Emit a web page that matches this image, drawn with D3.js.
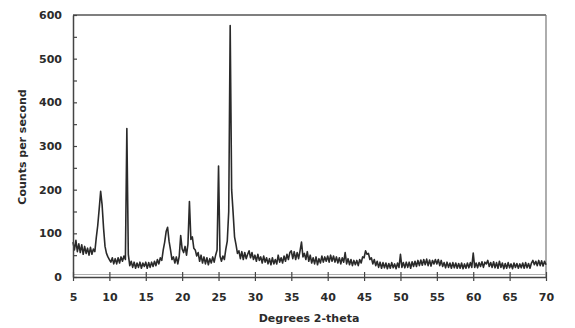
<!DOCTYPE html>
<html>
<head>
<meta charset="utf-8">
<script src="https://cdn.jsdelivr.net/npm/d3@7"></script>
<style>
  body { margin: 0; background: #fff; }
  svg { display: block; }
  text { font-family: "DejaVu Sans", sans-serif; font-weight: bold; fill: #2b2b2b; }
</style>
</head>
<body>
<svg class="xrd" width="575" height="328"></svg>
<script>
// scan settings
const START_ANGLE = 5;
const STEP = 0.2;

// counts per second, one row per degree (x.0, x.2, x.4, x.6, x.8)
const counts = [
    80, 62, 84, 58, 76,      // 5
    56, 74, 52, 70, 54,      // 6
    66, 50, 68, 52, 64,      // 7
    58, 90, 118, 156, 196,   // 8
    165, 112, 70, 54, 46,    // 9
    40, 34, 44, 30, 42,      // 10
    30, 44, 32, 46, 36,      // 11
    48, 40, 340, 52, 26,     // 12
    36, 22, 34, 20, 32,      // 13
    22, 34, 20, 32, 24,      // 14
    34, 20, 33, 22, 34,      // 15
    24, 36, 26, 40, 30,      // 16
    44, 38, 62, 80, 104,     // 17
    114, 82, 62, 40, 46,     // 18
    32, 46, 30, 48, 95,      // 19
    64, 56, 70, 50, 76,      // 20
    173, 86, 92, 66, 62,     // 21
    48, 56, 36, 50, 32,      // 22
    46, 30, 44, 28, 42,      // 23
    32, 46, 34, 50, 62,      // 24
    254, 48, 36, 48, 40,     // 25
    64, 82, 150, 576, 200,   // 26
    148, 92, 74, 54, 60,     // 27
    42, 58, 40, 56, 42,      // 28
    52, 60, 44, 56, 40,      // 29
    50, 36, 52, 38, 46,      // 30
    32, 48, 34, 44, 30,      // 31
    42, 28, 44, 30, 40,      // 32
    30, 50, 34, 44, 32,      // 33
    48, 36, 52, 40, 56,      // 34
    60, 42, 58, 40, 56,      // 35
    42, 60, 80, 46, 54,      // 36
    40, 58, 36, 50, 32,      // 37
    44, 30, 46, 28, 42,      // 38
    32, 48, 34, 46, 36,      // 39
    48, 34, 50, 36, 48,      // 40
    34, 46, 32, 44, 30,      // 41
    44, 34, 56, 30, 42,      // 42
    28, 40, 26, 38, 28,      // 43
    38, 26, 40, 32, 46,      // 44
    44, 60, 52, 54, 40,      // 45
    44, 30, 40, 26, 36,      // 46
    22, 34, 20, 33, 21,      // 47
    32, 19, 31, 20, 33,      // 48
    21, 30, 19, 32, 22,      // 49
    52, 22, 33, 21, 34,      // 50
    22, 34, 20, 35, 24,      // 51
    36, 24, 38, 26, 39,      // 52
    27, 40, 28, 41, 26,      // 53
    39, 25, 38, 30, 40,      // 54
    30, 40, 26, 38, 24,      // 55
    33, 21, 34, 22, 32,      // 56
    20, 33, 21, 32, 20,      // 57
    31, 20, 32, 19, 30,      // 58
    20, 32, 21, 33, 22,      // 59
    55, 22, 32, 21, 33,      // 60
    24, 35, 22, 34, 30,      // 61
    38, 24, 33, 22, 35,      // 62
    21, 33, 20, 36, 22,      // 63
    32, 19, 31, 20, 33,      // 64
    21, 30, 19, 32, 22,      // 65
    31, 20, 30, 21, 32,      // 66
    20, 33, 21, 31, 20,      // 67
    32, 38, 28, 36, 26,      // 68
    38, 26, 37, 25, 36,      // 69
    28                       // 70
];

const xTicks = [5, 10, 15, 20, 25, 30, 35, 40, 45, 50, 55, 60, 65, 70];
const yTicks = [0, 50, 100, 150, 200, 250, 300, 350, 400, 450, 500, 550, 600];

let svg = d3.select('.xrd');
const PLOT = {left: 73, right: 546, top: 15, bottom: 277};

let xScale = d3.scaleLinear()
    .domain([5, 70])
    .range([PLOT.left, PLOT.right]);
let yScale = d3.scaleLinear()
    .domain([0, 600])
    .range([PLOT.bottom, PLOT.top]);

let points = counts.map((c, i) => ({angle: START_ANGLE + i * STEP, cps: c}));

// frame top and right
svg.append('line')
    .attr('x1', PLOT.left).attr('x2', PLOT.right)
    .attr('y1', PLOT.top).attr('y2', PLOT.top)
    .attr('stroke', '#555').attr('stroke-width', 1.6);
svg.append('line')
    .attr('x1', PLOT.right).attr('x2', PLOT.right)
    .attr('y1', PLOT.top).attr('y2', PLOT.bottom)
    .attr('stroke', '#777').attr('stroke-width', 1.2);
// second faint rule just above the x axis, like the scan
svg.append('line')
    .attr('x1', PLOT.left).attr('x2', PLOT.right)
    .attr('y1', PLOT.bottom - 2.5).attr('y2', PLOT.bottom - 2.5)
    .attr('stroke', '#999').attr('stroke-width', 0.8);

// the pattern
svg.append('path')
    .datum(points)
    .attr('fill', 'none')
    .attr('stroke', '#2a2a2a')
    .attr('stroke-width', 1.6)
    .attr('stroke-linejoin', 'round')
    .attr('d', d3.line()
        .x(d => xScale(d.angle))
        .y(d => yScale(d.cps)));

let yAxis = svg.append('g')
    .attr('transform', `translate(${PLOT.left},0)`)
    .call(d3.axisLeft(yScale)
        .tickValues(yTicks)
        .tickSizeInner(-4)
        .tickSizeOuter(0)
        .tickPadding(11)
        .tickFormat(d => d % 100 === 0 ? d : ''));
yAxis.select('.domain').attr('stroke', '#444').attr('stroke-width', 1.5);
yAxis.selectAll('.tick line').attr('stroke', '#444').attr('stroke-width', 1.2);
yAxis.selectAll('text').attr('font-size', 11).attr('fill', '#2b2b2b');

let xAxis = svg.append('g')
    .attr('transform', `translate(0,${PLOT.bottom})`)
    .call(d3.axisBottom(xScale)
        .tickValues(xTicks)
        .tickSizeInner(4)
        .tickSizeOuter(0)
        .tickPadding(12));
xAxis.select('.domain').attr('stroke', '#444').attr('stroke-width', 1.5);
xAxis.selectAll('.tick line')
    .attr('y1', -5)
    .attr('y2', 4)
    .attr('stroke', '#444').attr('stroke-width', 1.2);
xAxis.selectAll('text').attr('font-size', 11).attr('fill', '#2b2b2b');

svg.append('text')
    .attr('transform', 'translate(22,147) rotate(-90)')
    .attr('text-anchor', 'middle')
    .attr('dominant-baseline', 'central')
    .attr('font-size', 11)
    .attr('fill', '#2b2b2b')
    .text('Counts per second');

svg.append('text')
    .attr('x', 309)
    .attr('y', 322)
    .attr('text-anchor', 'middle')
    .attr('font-size', 11)
    .attr('fill', '#2b2b2b')
    .text('Degrees 2-theta');
</script>
</body>
</html>
